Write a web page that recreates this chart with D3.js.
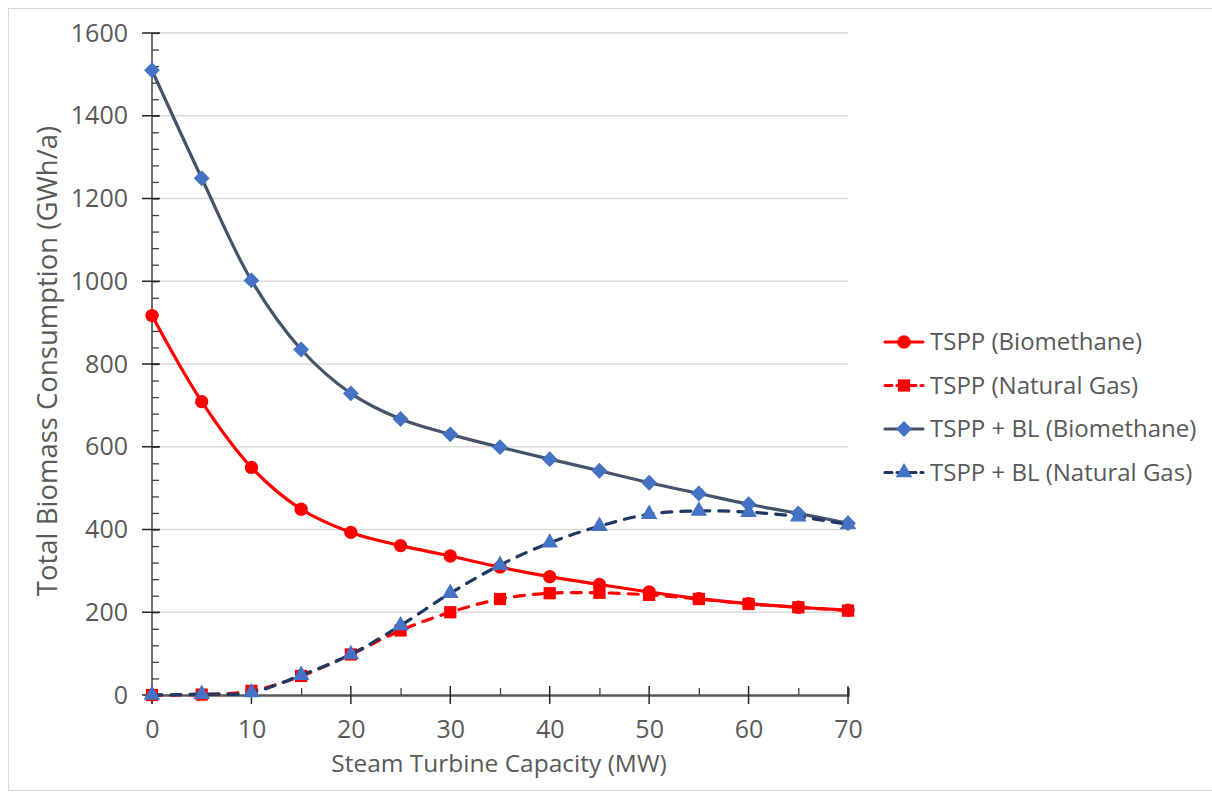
<!DOCTYPE html>
<html>
<head>
<meta charset="utf-8">
<script src="https://cdn.jsdelivr.net/npm/d3@7"></script>
<style>
  body { margin: 0; background: #fff; }
  svg { display: block; }
  text { font-family: "Open Sans", sans-serif; fill: #595959; }
</style>
</head>
<body>
<svg id="chart"></svg>
<script>
// steam turbine capacity (MW)
const capacity = [0, 5, 10, 15, 20, 25, 30, 35, 40, 45, 50, 55, 60, 65, 70];
// total biomass consumption (GWh/a)
const tsppBio = [917, 709, 550, 449, 393, 361, 336, 309, 286, 267, 249, 233, 221, 212, 205];
const tsppGas = [0, 1, 10, 46, 98, 156, 200, 232, 246, 247, 242, 232, 220, 212, 204];
const blBio = [1510, 1249, 1002, 835, 729, 667, 630, 599, 570, 542, 513, 487, 461, 439, 415];
const blGas = [0, 2, 6, 48, 98, 168, 246, 314, 368, 408, 437, 445, 442, 431, 412];
const seriesNames = ["TSPP (Biomethane)", "TSPP (Natural Gas)", "TSPP + BL (Biomethane)", "TSPP + BL (Natural Gas)"];
const xTicks = [0, 10, 20, 30, 40, 50, 60, 70];
const yTicks = [0, 200, 400, 600, 800, 1000, 1200, 1400, 1600];

const W = 1212, H = 798;
const margin = { top: 33, right: 364, bottom: 103, left: 152 };
const width = W - margin.left - margin.right;
const height = H - margin.top - margin.bottom;

const svg = d3.select("#chart").attr("width", W).attr("height", H);

// chart frame
svg.append("rect")
  .attr("x", 8.5).attr("y", 8.5)
  .attr("width", W).attr("height", H - 16)
  .attr("fill", "none").attr("stroke", "#d9d9d9");

const g = svg.append("g").attr("transform", `translate(${margin.left},${margin.top})`);

const x = d3.scaleLinear().domain([0, 70]).range([0, width]);
const y = d3.scaleLinear().domain([0, 1600]).range([height, 0]);

// grid lines
g.selectAll("line.grid")
  .data(yTicks.slice(1))
  .enter().append("line")
  .attr("x1", 0).attr("x2", width)
  .attr("y1", d => y(d)).attr("y2", d => y(d))
  .style("stroke", "#d9d9d9").style("stroke-width", 1.3);

// y axis
const yAxis = g.append("g")
  .call(d3.axisLeft(y).tickValues(yTicks).tickFormat(d3.format("d")).tickSize(0).tickPadding(24));
yAxis.select(".domain").remove();
yAxis.selectAll("text").style("font-size", "25px").style("fill", "#595959").style("font-family", "Open Sans");
g.append("g")
  .call(d3.axisLeft(y).tickValues(d3.range(0, 1601, 40)).tickSize(-7).tickFormat(""))
  .call(a => a.select(".domain").attr("stroke", "#404040").attr("stroke-width", 1.5).attr("d", `M0,${height + 8}V0`))
  .call(a => a.selectAll("line").attr("stroke", "#404040").attr("stroke-width", 1.3));
g.selectAll("line.ymajor")
  .data(yTicks)
  .enter().append("line")
  .attr("x1", -10).attr("x2", 8)
  .attr("y1", d => y(d)).attr("y2", d => y(d))
  .style("stroke", "#262626").style("stroke-width", 1.5);

// x axis
const xAxis = g.append("g")
  .attr("transform", `translate(0,${height})`)
  .call(d3.axisBottom(x).tickValues(xTicks).tickFormat(d3.format("d")).tickSize(0).tickPadding(25));
xAxis.select(".domain").remove();
xAxis.selectAll("text").style("font-size", "25px").style("fill", "#595959").style("font-family", "Open Sans");
g.append("g")
  .attr("transform", `translate(0,${height})`)
  .call(d3.axisBottom(x).tickValues(d3.range(5, 70, 10)).tickSize(-7).tickFormat(""))
  .call(a => a.select(".domain").attr("stroke", "#595959").attr("stroke-width", 2.5))
  .call(a => a.selectAll("line").attr("stroke", "#404040").attr("stroke-width", 1.3));
g.selectAll("line.xmajor")
  .data(xTicks)
  .enter().append("line")
  .attr("x1", d => x(d)).attr("x2", d => x(d))
  .attr("y1", height - 9).attr("y2", height + 9)
  .style("stroke", "#262626").style("stroke-width", 1.5);

// axis titles
svg.append("text")
  .attr("x", 499).attr("y", 772)
  .attr("text-anchor", "middle")
  .style("font-size", "24.5px")
  .text("Steam Turbine Capacity (MW)");
svg.append("text")
  .attr("transform", `translate(57,361) rotate(-90)`)
  .attr("text-anchor", "middle")
  .style("font-size", "27.5px")
  .text("Total Biomass Consumption (GWh/a)");

// series
const series = [
  { name: seriesNames[0], values: tsppBio, line: "#ff0000", marker: "#ff0000", dash: null, shape: d3.symbolCircle, size: 140 },
  { name: seriesNames[1], values: tsppGas, line: "#ff0000", marker: "#ff0000", dash: "10 9", shape: d3.symbolSquare, size: 150 },
  { name: seriesNames[2], values: blBio, line: "#44546a", marker: "#4472c4", dash: null, shape: d3.symbolDiamond2, size: 160 },
  { name: seriesNames[3], values: blGas, line: "#203864", marker: "#4472c4", dash: "10 9", shape: d3.symbolTriangle, size: 120 }
];

const line = d3.line()
  .x((d, i) => x(capacity[i]))
  .y(d => y(d))
  .curve(d3.curveCatmullRom.alpha(0.5));

series.forEach(s => {
  const sg = g.append("g");
  sg.append("path")
    .datum(s.values)
    .attr("d", line)
    .attr("fill", "none")
    .attr("stroke", s.line)
    .attr("stroke-width", 3.2)
    .attr("stroke-linecap", "round")
    .attr("stroke-dasharray", s.dash);
  sg.selectAll("path.marker")
    .data(s.values)
    .enter().append("path")
    .attr("class", "marker")
    .attr("transform", (d, i) => `translate(${x(capacity[i])},${y(d)})`)
    .attr("d", d3.symbol().type(s.shape).size(s.size))
    .attr("fill", s.marker);
});

// legend
const legend = svg.append("g").attr("transform", "translate(885,342)");
series.forEach((s, i) => {
  const row = legend.append("g").attr("transform", `translate(0,${i * 43.5})`);
  row.append("line")
    .attr("x1", 0).attr("x2", 38)
    .attr("stroke", s.line).attr("stroke-width", 3.2)
    .attr("stroke-linecap", "round")
    .attr("stroke-dasharray", s.dash ? "7 5" : null);
  row.append("path")
    .attr("transform", "translate(19,0)")
    .attr("d", d3.symbol().type(s.shape).size(s.size))
    .attr("fill", s.marker);
  row.append("text")
    .attr("x", 45).attr("y", 0)
    .attr("dy", "0.35em")
    .style("font-size", "24px")
    .text(s.name);
});
</script>
</body>
</html>
